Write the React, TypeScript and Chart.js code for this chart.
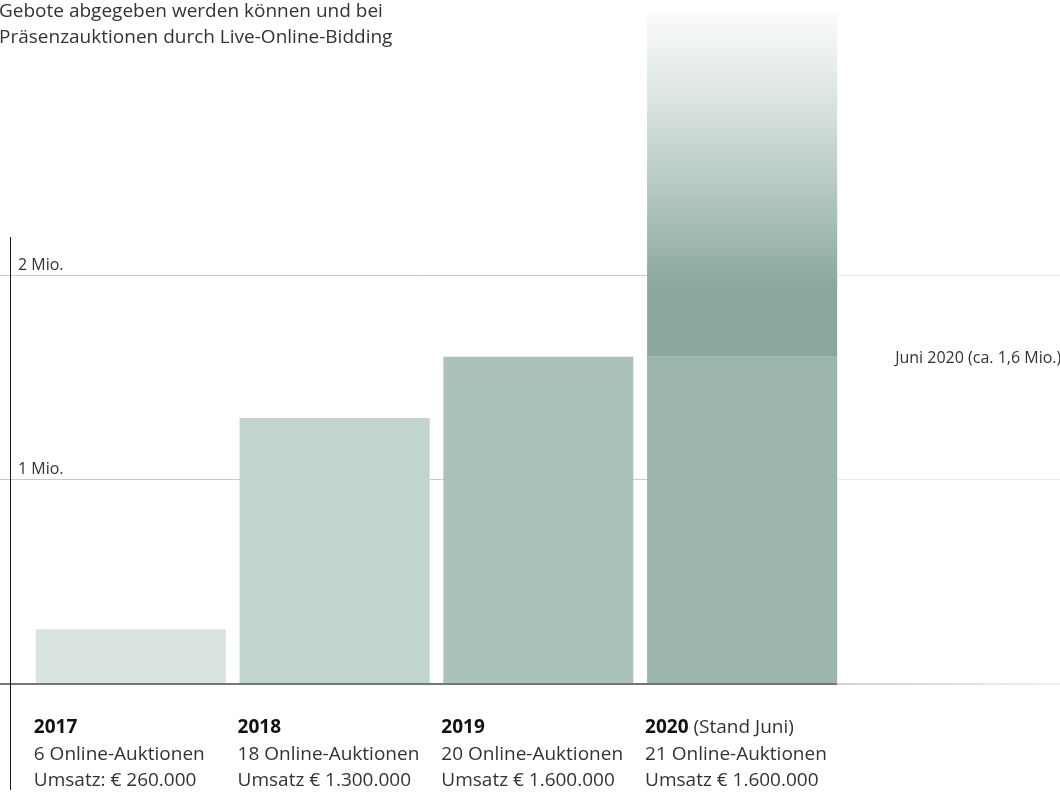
import { useEffect, useRef } from 'react';
import { Chart, registerables } from 'chart.js';

Chart.register(...registerables);

const FONT = '"Open Sans", "Noto Sans", "DejaVu Sans", sans-serif';

// ---- data ----
const years = ['2017', '2018', '2019', '2020'];
const yearNotes = ['', '', '', '(Stand Juni)'];
const auctionLines = ['6 Online-Auktionen', '18 Online-Auktionen', '20 Online-Auktionen', '21 Online-Auktionen'];
const revenueLines = ['Umsatz: € 260.000', 'Umsatz € 1.300.000', 'Umsatz € 1.600.000', 'Umsatz € 1.600.000'];
const revenue = [268000, 1300000, 1600000, 1600000];
const outlook = [null, null, null, 1680000];
const yTickValues = [1000000, 2000000];
const yTickLabels = ['1 Mio.', '2 Mio.'];
const titleLines = ['Gebote abgegeben werden können und bei', 'Präsenzauktionen durch Live-Online-Bidding'];
const markerValue = 1600000;
const markerLabel = 'Juni 2020 (ca. 1,6 Mio.)';

// ---- styles ----
const barColors = ['#d9e3e0', '#c2d4cf', '#abc2bc', '#9bb5ae'];
const outlookStops: [number, string][] = [
  [0, '#89a79f'],
  [0.2, '#89a79f'],
  [0.48, '#b4c7c2'],
  [0.77, '#dde6e3'],
  [1, '#fafbfb'],
];

const decor = {
  id: 'decor',
  beforeDatasetsDraw(chart: any) {
    const { ctx, width } = chart;
    const y = chart.scales.y;
    const meta = chart.getDatasetMeta(0);
    const last = meta.data[meta.data.length - 1];
    const edge = last.x + last.width / 2;
    ctx.save();
    ctx.lineWidth = 1;
    yTickValues.forEach((v) => {
      const py = Math.round(y.getPixelForValue(v)) + 0.5;
      ctx.strokeStyle = '#c9c9c9';
      ctx.beginPath();
      ctx.moveTo(0, py);
      ctx.lineTo(edge, py);
      ctx.stroke();
      ctx.strokeStyle = '#ececec';
      ctx.beginPath();
      ctx.moveTo(edge, py);
      ctx.lineTo(width, py);
      ctx.stroke();
    });
    ctx.restore();
  },
  afterDatasetsDraw(chart: any) {
    const { ctx, width, height } = chart;
    const y = chart.scales.y;
    const meta = chart.getDatasetMeta(0);
    const last = meta.data[meta.data.length - 1];
    const edge = last.x + last.width / 2;
    const base = Math.round(y.getPixelForValue(0));
    ctx.save();

    // baseline
    ctx.fillStyle = '#767676';
    ctx.fillRect(0, base - 1, edge, 2);
    const g = ctx.createLinearGradient(edge, 0, width, 0);
    g.addColorStop(0, '#d2d2d2');
    g.addColorStop(1, '#eeeeee');
    ctx.fillStyle = g;
    ctx.fillRect(edge, base - 1, width - edge, 2);

    // vertical axis line
    const axisTop = Math.round(y.getPixelForValue(2000000)) - 38;
    ctx.fillStyle = '#1a1a1a';
    ctx.fillRect(10, axisTop, 1, height - 2 - axisTop);

    // y tick labels
    ctx.fillStyle = '#333333';
    ctx.font = `16px ${FONT}`;
    ctx.textAlign = 'left';
    ctx.textBaseline = 'alphabetic';
    yTickValues.forEach((v, i) => {
      const py = y.getPixelForValue(v);
      ctx.fillText(yTickLabels[i], 18, Math.round(py - 5));
    });

    // marker label
    ctx.fillText(markerLabel, edge + 58, Math.round(y.getPixelForValue(markerValue) + 6));

    // title
    ctx.font = `19px ${FONT}`;
    ctx.fillStyle = '#333333';
    titleLines.forEach((t, i) => ctx.fillText(t, -1, 17 + i * 26));

    // category labels
    meta.data.forEach((el: any, i: number) => {
      const x = el.x - el.width / 2 - 2;
      ctx.font = `bold 19px ${FONT}`;
      ctx.fillStyle = '#111111';
      ctx.fillText(years[i], x, base + 49);
      if (yearNotes[i]) {
        const w = ctx.measureText(years[i] + ' ').width;
        ctx.font = `19px ${FONT}`;
        ctx.fillStyle = '#333333';
        ctx.fillText(yearNotes[i], x + w, base + 49);
      }
      ctx.font = `19px ${FONT}`;
      ctx.fillStyle = '#333333';
      ctx.fillText(auctionLines[i], x, base + 76);
      ctx.fillText(revenueLines[i], x, base + 102);
    });
    ctx.restore();
  },
};

export default function App() {
  const ref = useRef<HTMLCanvasElement | null>(null);
  useEffect(() => {
    if (!ref.current) return;
    const chart = new Chart(ref.current, {
      type: 'bar',
      data: {
        labels: years,
        datasets: [
          {
            label: 'Umsatz',
            data: revenue,
            backgroundColor: barColors,
            borderWidth: 0,
            categoryPercentage: 1,
            barPercentage: 0.933,
          },
          {
            label: 'Ausblick',
            data: outlook as any,
            borderWidth: 0,
            categoryPercentage: 1,
            barPercentage: 0.933,
            backgroundColor: (c: any) => {
              const ch = c.chart;
              const ys = ch.scales && ch.scales.y;
              if (!ch.chartArea || !ys) return '#89a79f';
              const i = 3;
              const b = ys.getPixelForValue(revenue[i]);
              const t = ys.getPixelForValue(revenue[i] + (outlook[i] as number));
              const g = ch.ctx.createLinearGradient(0, b, 0, t);
              outlookStops.forEach(([p, col]) => g.addColorStop(p, col));
              return g;
            },
          },
        ],
      },
      options: {
        responsive: false,
        animation: false,
        devicePixelRatio: 1,
        layout: { padding: { left: 29, right: 216, top: 0, bottom: 108 } },
        plugins: { legend: { display: false }, tooltip: { enabled: false }, title: { display: false } },
        scales: {
          x: { display: false, stacked: true },
          y: { display: false, stacked: true, min: 0, max: 3344000 },
        },
      },
      plugins: [decor],
    });
    return () => chart.destroy();
  }, []);
  return (
    <div style={{ position: 'absolute', left: 0, top: 0, width: 1060, height: 792, background: '#ffffff' }}>
      <canvas ref={ref} width={1060} height={792} style={{ display: 'block', width: 1060, height: 792 }} />
    </div>
  );
}
